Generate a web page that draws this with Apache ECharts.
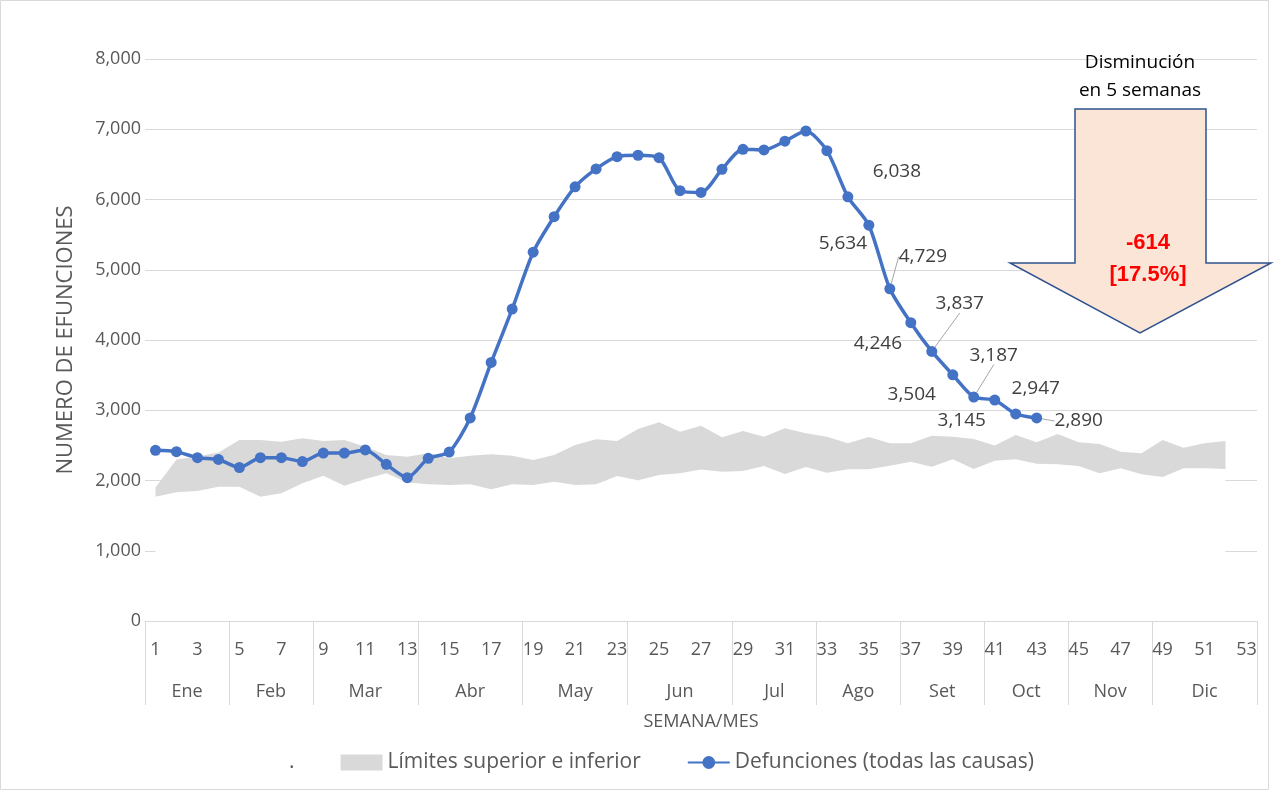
<!DOCTYPE html>
<html>
<head>
<meta charset="utf-8">
<script src="https://cdn.jsdelivr.net/npm/echarts@6/dist/echarts.min.js"></script>
<style>
  html, body { margin: 0; background: #fff; }
  #chart { width: 1276px; height: 795px; }
</style>
</head>
<body>
<div id="chart"></div>
<script>
// semanas 1..53 (etiquetas del eje)
const weeks = ['1','2','3','4','5','6','7','8','9','10','11','12','13','14','15','16','17','18','19','20',
  '21','22','23','24','25','26','27','28','29','30','31','32','33','34','35','36','37','38','39','40',
  '41','42','43','44','45','46','47','48','49','50','51','52','53'];
const monthNames = ['Ene', 'Feb', 'Mar', 'Abr', 'May', 'Jun', 'Jul', 'Ago', 'Set', 'Oct', 'Nov', 'Dic'];
const monthWeeks = [4, 4, 5, 5, 5, 5, 4, 4, 4, 4, 4, 5];

const defunciones = [2430, 2410, 2325, 2300, 2185, 2325, 2325, 2270, 2390, 2390,
  2435, 2230, 2040, 2315, 2405, 2890, 3680, 4440, 5250, 5755,
  6180, 6435, 6610, 6630, 6595, 6125, 6100, 6430, 6715, 6705,
  6830, 6975, 6695, 6038, 5634, 4729, 4246, 3837, 3504, 3187,
  3145, 2947, 2890];

const limiteInferior = [1770, 1832, 1850, 1912, 1912, 1770, 1817, 1960, 2069, 1926,
  2021, 2102, 1970, 1945, 1936, 1945, 1874, 1945, 1936, 1983,
  1936, 1945, 2064, 2002, 2078, 2102, 2155, 2126, 2135, 2206,
  2093, 2192, 2111, 2159, 2159, 2211, 2268, 2197, 2302, 2164,
  2280, 2302, 2240, 2230, 2206, 2102, 2173, 2088, 2050, 2173,
  2173, 2164];

const limiteSuperior = [1900, 2300, 2340, 2400, 2577, 2577, 2553, 2600, 2562, 2577,
  2480, 2363, 2339, 2387, 2316, 2353, 2373, 2353, 2292, 2363,
  2505, 2586, 2562, 2733, 2828, 2695, 2780, 2615, 2705, 2624,
  2743, 2672, 2624, 2529, 2619, 2529, 2529, 2638, 2624, 2591,
  2500, 2648, 2544, 2662, 2544, 2520, 2410, 2387, 2577, 2467,
  2529, 2562];

// desplazamiento de etiquetas [dx, dy, linea guia] por indice de semana
const labelShift = {
  33: [49, -25, false], 34: [-26, 18, false], 35: [33, -32, true], 36: [-33, 21, false],
  37: [28, -48, true], 38: [-41, 20, false], 39: [20, -42, true], 40: [-33, 21, false],
  41: [20, -25, false], 42: [42, 3, true]
};

// eje de meses en medias semanas (107 posiciones)
const monthSlots = new Array(weeks.length * 2 + 1).fill('');
const monthEdges = [0];
let acc = 0;
monthWeeks.forEach((n, i) => {
  monthSlots[2 * acc + n] = monthNames[i];
  acc += n;
  monthEdges.push(2 * acc);
});

const bandDiff = limiteSuperior.map((v, i) => v - limiteInferior[i]);
const lineData = defunciones.map((v, i) => labelShift[i]
  ? { value: v, label: { show: true }, labelLine: { show: labelShift[i][2] } }
  : v);

const FONT = "'Open Sans', sans-serif";
const GREY_TXT = '#595959';

const chart = echarts.init(document.getElementById('chart'));
chart.setOption({
  animation: false,
  backgroundColor: '#fff',
  textStyle: { fontFamily: FONT },
  grid: { left: 145, right: 19, top: 59, bottom: 174 },
  legend: {
    top: 747,
    left: 'center',
    itemWidth: 42,
    itemHeight: 16,
    itemGap: 46,
    textStyle: { fontSize: 21, color: GREY_TXT, fontFamily: FONT },
    data: [
      { name: '.', icon: 'rect', itemStyle: { color: '#fff' } },
      { name: 'Límites superior e inferior', icon: 'rect', itemStyle: { color: '#d9d9d9' } },
      'Defunciones (todas las causas)'
    ]
  },
  xAxis: [
    {
      type: 'category',
      data: weeks,
      boundaryGap: true,
      z: 3,
      axisLine: { lineStyle: { color: '#d9d9d9', width: 1 } },
      axisTick: { show: false },
      axisLabel: { interval: 1, margin: 20, fontSize: 18, color: GREY_TXT, fontFamily: FONT }
    },
    {
      type: 'category',
      data: monthSlots,
      boundaryGap: false,
      position: 'bottom',
      z: 3,
      axisLine: { show: false },
      axisTick: {
        show: true,
        length: 84,
        interval: (idx) => monthEdges.includes(idx),
        lineStyle: { color: '#d9d9d9' }
      },
      axisLabel: {
        interval: (idx, val) => val !== '',
        margin: 62,
        fontSize: 18,
        color: GREY_TXT,
        fontFamily: FONT
      },
      name: 'SEMANA/MES',
      nameLocation: 'middle',
      nameGap: 92,
      nameTextStyle: { fontSize: 18, color: GREY_TXT, fontFamily: FONT }
    }
  ],
  yAxis: {
    type: 'value',
    min: 0,
    max: 8000,
    interval: 1000,
    axisLine: { show: false },
    axisTick: { show: false },
    splitLine: { lineStyle: { color: '#d9d9d9' } },
    axisLabel: {
      margin: 4,
      fontSize: 18,
      color: GREY_TXT,
      fontFamily: FONT,
      formatter: (v) => v.toLocaleString('en-US')
    },
    name: 'NUMERO DE EFUNCIONES',
    nameLocation: 'middle',
    nameGap: 68,
    nameTextStyle: { fontSize: 22, color: GREY_TXT, fontFamily: FONT }
  },
  series: [
    {
      name: '.',
      type: 'line',
      stack: 'banda',
      data: limiteInferior,
      symbol: 'none',
      lineStyle: { width: 0, opacity: 0 },
      areaStyle: { color: '#fff', opacity: 1 },
      itemStyle: { color: '#fff' },
      silent: true
    },
    {
      name: 'Límites superior e inferior',
      type: 'line',
      stack: 'banda',
      data: bandDiff,
      symbol: 'none',
      lineStyle: { width: 0, opacity: 0 },
      areaStyle: { color: '#d9d9d9', opacity: 1 },
      itemStyle: { color: '#d9d9d9' },
      silent: true
    },
    {
      name: 'Defunciones (todas las causas)',
      type: 'line',
      data: lineData,
      smooth: 0.25,
      symbol: 'circle',
      symbolSize: 11,
      z: 4,
      lineStyle: { color: '#4472c4', width: 3.5 },
      itemStyle: { color: '#4472c4' },
      label: {
        show: false,
        position: 'inside',
        fontSize: 19,
        color: '#404040',
        fontFamily: FONT,
        formatter: (p) => p.value.toLocaleString('en-US')
      },
      labelLine: { show: false, lineStyle: { color: '#a6a6a6', width: 1 }, length2: 0 },
      labelLayout: (p) => {
        const s = labelShift[p.dataIndex];
        return s ? { dx: s[0], dy: s[1] } : {};
      }
    }
  ],
  graphic: [
    {
      type: 'rect',
      silent: true,
      shape: { x: 0.5, y: 0.5, width: 1268, height: 789 },
      style: { fill: 'none', stroke: '#d9d9d9', lineWidth: 1 }
    },
    {
      type: 'polygon',
      silent: true,
      z: 10,
      shape: {
        points: [[1075, 109], [1206, 109], [1206, 263], [1271, 263], [1140, 333], [1010, 263], [1075, 263]]
      },
      style: { fill: '#fbe5d6', stroke: '#2f528f', lineWidth: 1.5 }
    },
    {
      type: 'text',
      silent: true,
      z: 11,
      style: {
        text: 'Disminución\nen 5 semanas',
        x: 1140, y: 77,
        align: 'center', verticalAlign: 'middle',
        fontSize: 19, lineHeight: 28, fill: '#000', fontFamily: FONT
      }
    },
    {
      type: 'text',
      silent: true,
      z: 11,
      style: {
        text: '-614\n[17.5%]',
        x: 1148, y: 259,
        align: 'center', verticalAlign: 'middle',
        fontSize: 22, lineHeight: 32, fontWeight: 'bold', fill: '#ff0000',
        fontFamily: "'Liberation Sans', Arial, sans-serif"
      }
    }
  ]
});
</script>
</body>
</html>
